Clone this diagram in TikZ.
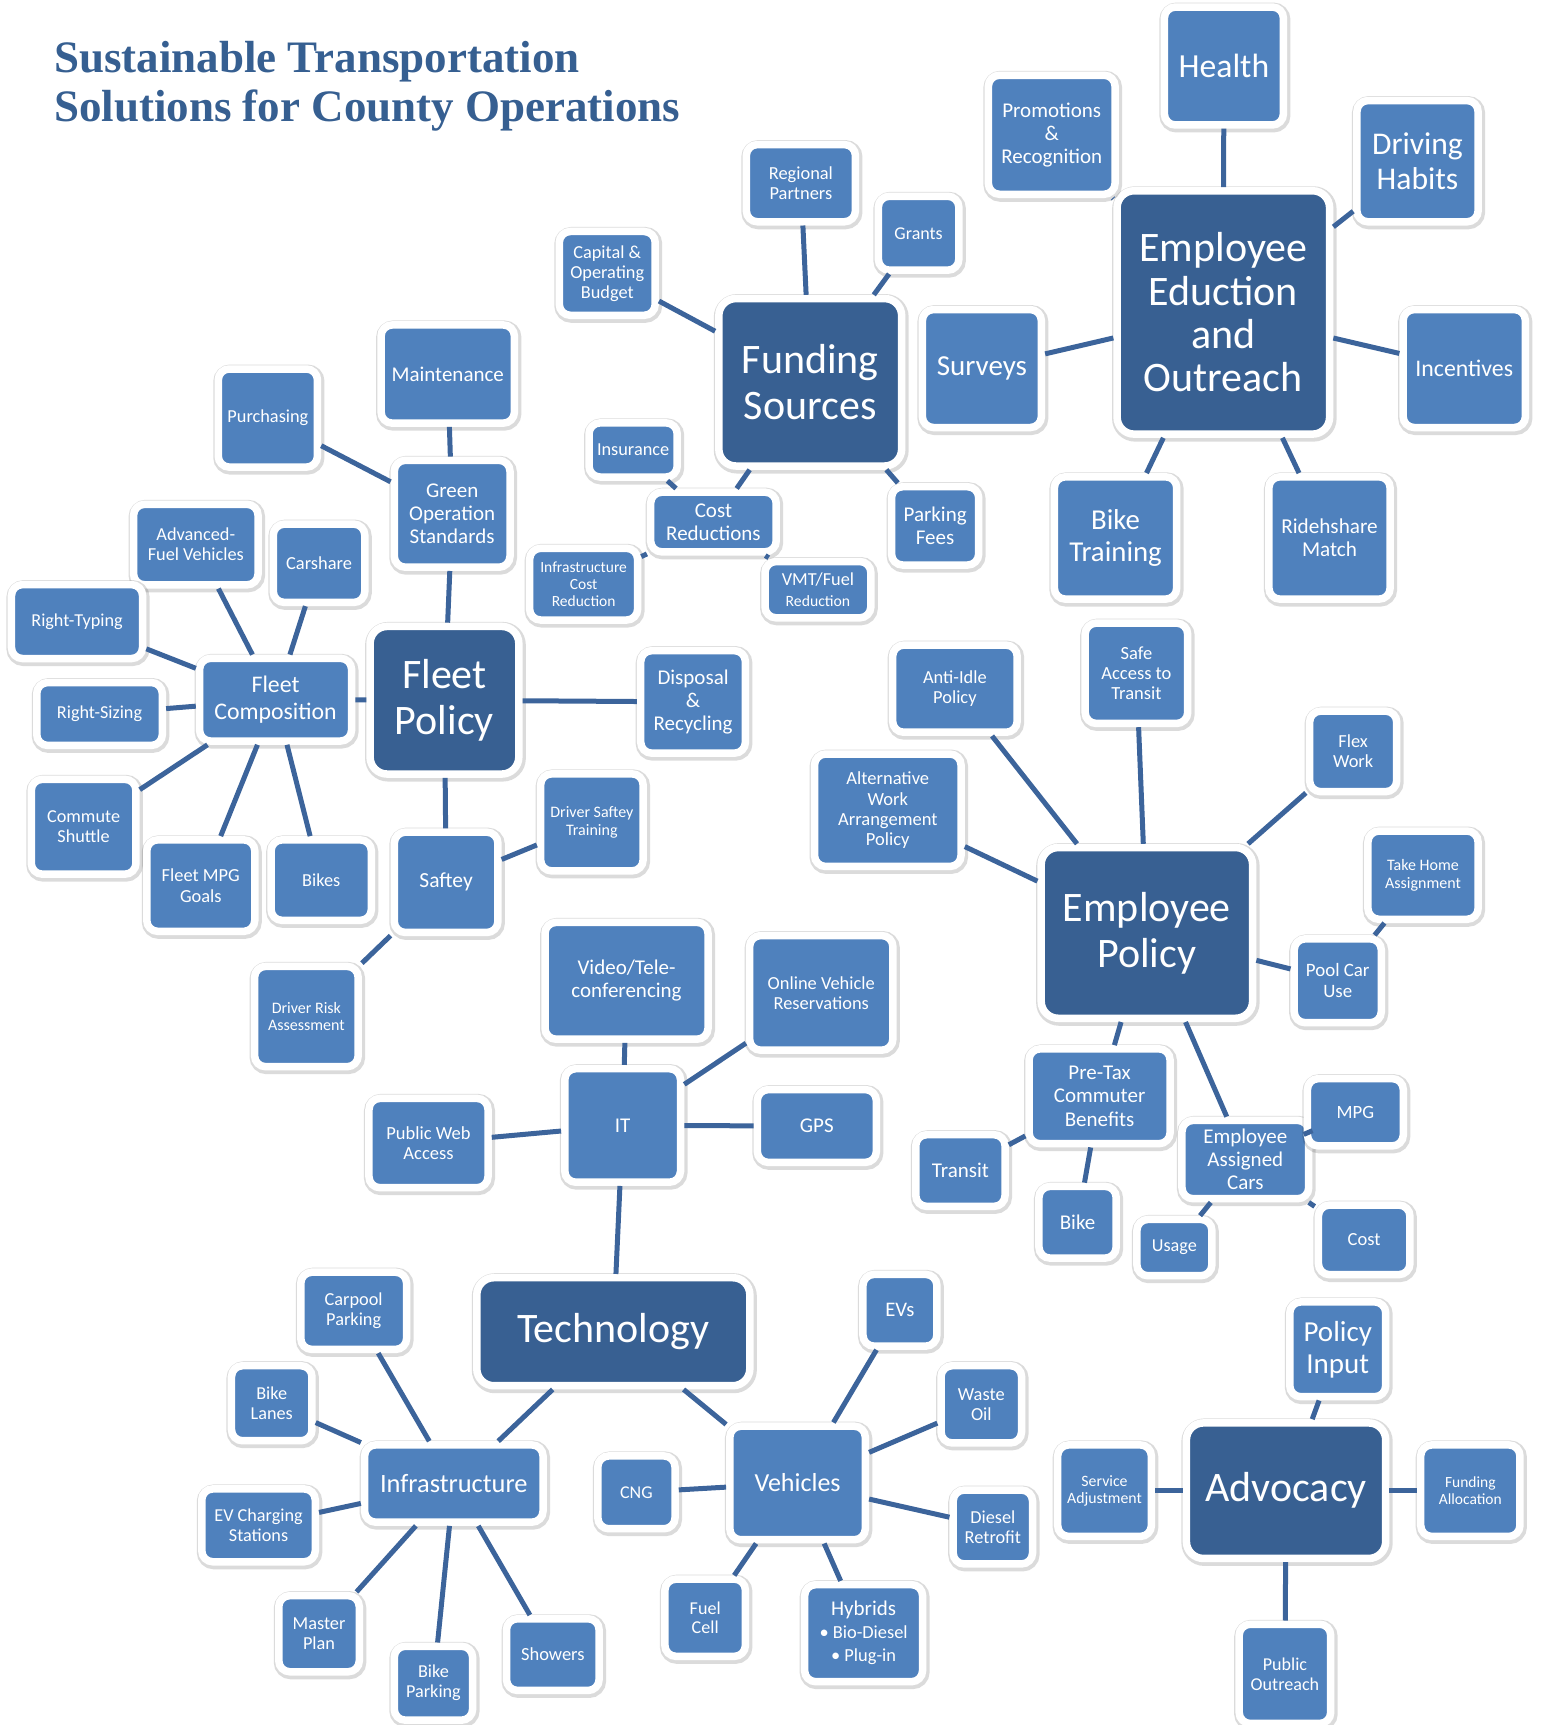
\documentclass[tikz,border=0pt]{standalone}
\usepackage{fontspec}
\setmainfont{Carlito}
\newfontfamily\titleFont{Liberation Serif}
\usetikzlibrary{shadows}
\definecolor{leafColor}{RGB}{79,129,189}
\definecolor{hubColor}{RGB}{56,96,146}
\definecolor{linkColor}{RGB}{60,100,155}
\definecolor{titleColor}{RGB}{54,95,145}
\newcommand\setfs[2]{\pgfmathsetlengthmacro\fsline{#1*#2}\fontsize{#1}{\fsline}\selectfont}

\begin{document}
\begin{tikzpicture}[x=1.1pt, y=-1.1pt,
leaf/.style={
    rectangle, rounded corners=11pt, draw=white, line width=7.5pt,
    fill=leafColor, text=white, align=center, inner sep=1pt,
    drop shadow={shadow xshift=1pt, shadow yshift=-1.5pt,
        opacity=0.14, fill=black, draw=black, line width=12pt}
},
hub/.style={
    leaf, fill=hubColor, rounded corners=17pt, font=\setfs{42}{1.1}
},
fs/.style={font=\setfs{#1}{1.1}},
sz/.style 2 args={minimum width=#1*1.1pt+3.5pt, minimum height=#2*1.1pt+3.5pt},
link/.style={linkColor, line width=5pt}
]

\useasboundingbox (0,0) rectangle (1400,1568);

\node[titleColor, font=\titleFont\bfseries\setfs{45}{1.1}, align=left,
      anchor=north west, inner sep=0pt] (title) at (49,37)
      {Sustainable Transportation\\Solutions for County Operations};

\node[hub, sz={163}{149}] (fundingSources) at (736.5,347.5) {Funding\\Sources};
\node[leaf, sz={96}{67}, fs=18.4] (regionalPartners) at (728,166.5) {Regional\\Partners};
\node[leaf, sz={70}{64}, fs=18] (grants) at (835,212) {Grants};
\node[leaf, sz={84}{73}, fs=18.3] (capitalBudget) at (552,248.5) {Capital \&\\Operating\\Budget};
\node[leaf, sz={111}{51}, fs=21] (costReductions) at (648.5,474.5) {Cost\\Reductions};
\node[leaf, sz={77}{46}, fs=18.3] (insurance) at (575.5,409) {Insurance};
\node[leaf, sz={95}{62}, fs=15.5] (infraCost) at (530.5,531) {Infrastructure\\Cost\\Reduction};
\node[leaf, sz={93}{48}, fs=18.3] (vmtFuel) at (743.5,536) {VMT/Fuel\\{\setfs{15.7}{1.1}Reduction}};
\node[leaf, sz={76}{68}, fs=21] (parkingFees) at (850,478) {Parking\\Fees};

\node[hub, sz={190}{218}, font=\setfs{42}{1.03}] (employeeEducation) at (1112,284)
      {Employee\\Eduction\\and\\Outreach};
\node[leaf, sz={105}{104}, fs=33.7] (health) at (1112.5,60) {Health};
\node[leaf, sz={112}{105}, fs=21] (promotions) at (956,122.5) {Promotions\\\&\\Recognition};
\node[leaf, sz={107}{107}, fs=31.6] (drivingHabits) at (1288.5,146.5) {Driving\\Habits};
\node[leaf, sz={105}{104}, fs=29] (surveys) at (892.5,335) {Surveys};
\node[leaf, sz={108}{104}, fs=23.8] (incentives) at (1331,335) {Incentives};
\node[leaf, sz={108}{108}, fs=28.8] (bikeTraining) at (1014,489) {Bike\\Training};
\node[leaf, sz={107}{108}, fs=21.2] (ridehshareMatch) at (1208.5,489) {Ridehshare\\Match};

\node[hub, sz={132}{131}] (fleetPolicy) at (404,636.5) {Fleet\\Policy};
\node[leaf, sz={102}{94}, fs=21] (greenOps) at (411,467) {Green\\Operation\\Standards};
\node[leaf, sz={118}{86}, fs=21] (maintenance) at (407,340) {Maintenance};
\node[leaf, sz={87}{86}, fs=18.3] (purchasing) at (243.5,380) {Purchasing};
\node[leaf, sz={135}{72}, fs=23.8] (fleetComposition) at (250.5,636) {Fleet\\Composition};
\node[leaf, sz={110}{70}, fs=18.3] (advancedFuel) at (178,495) {Advanced-\\Fuel Vehicles};
\node[leaf, sz={80}{68}, fs=18.4] (carshare) at (290,512) {Carshare};
\node[leaf, sz={116}{64}, fs=18.2] (rightTyping) at (70,565) {Right-Typing};
\node[leaf, sz={111}{54}, fs=18.2] (rightSizing) at (90.5,649) {Right-Sizing};
\node[leaf, sz={92}{83}, fs=18.2] (commuteShuttle) at (76,751.5) {Commute\\Shuttle};
\node[leaf, sz={95}{80}, fs=18.4] (fleetMpg) at (182.5,805) {Fleet MPG\\Goals};
\node[leaf, sz={88}{70}, fs=18.3] (bikes) at (292,800) {Bikes};
\node[leaf, sz={92}{90}, fs=21] (disposal) at (630,638) {Disposal\\\&\\Recycling};
\node[leaf, sz={91}{88}, fs=21.5] (saftey) at (405.5,802) {Saftey};
\node[leaf, sz={90}{85}, fs=16] (driverSafteyTraining) at (538,747.5) {Driver Saftey\\Training};
\node[leaf, sz={91}{88}, fs=16] (driverRisk) at (278.5,924) {Driver Risk\\Assessment};

\node[hub, sz={189}{152}] (employeePolicy) at (1042.5,848) {Employee\\Policy};
\node[leaf, sz={110}{76}, fs=18.4] (antiIdle) at (868,626) {Anti-Idle\\Policy};
\node[leaf, sz={90}{88}, fs=18.5] (safeAccess) at (1033,612) {Safe\\Access to\\Transit};
\node[leaf, sz={76}{70}, fs=18.4] (flexWork) at (1230,683) {Flex\\Work};
\node[leaf, sz={130}{99}, fs=18.5] (altWork) at (807,736.5) {Alternative\\Work\\Arrangement\\Policy};
\node[leaf, sz={97}{77}, fs=16] (takeHome) at (1293.5,795.5) {Take Home\\Assignment};
\node[leaf, sz={76}{73}, fs=18.9] (poolCar) at (1216,891.5) {Pool Car\\Use};
\node[leaf, sz={125}{83}, fs=21] (preTax) at (999.5,996.5) {Pre-Tax\\Commuter\\Benefits};
\node[leaf, sz={78}{62}, fs=21] (transit) at (873,1064) {Transit};
\node[leaf, sz={67}{62}, fs=21] (bike) at (979.5,1111) {Bike};
\node[leaf, sz={112}{68}, fs=21] (assignedCars) at (1132,1054) {Employee\\Assigned\\Cars};
\node[leaf, sz={84}{58}, fs=18.7] (mpg) at (1232,1011) {MPG};
\node[leaf, sz={65}{48}, fs=18.2] (usage) at (1067.5,1134) {Usage};
\node[leaf, sz={80}{60}, fs=18.5] (cost) at (1240,1127) {Cost};

\node[leaf, sz={102}{100}, fs=21] (itNode) at (566,1023) {IT};
\node[leaf, sz={145}{103}, fs=21] (videoConf) at (569.5,891.5) {Video/Tele-\\conferencing};
\node[leaf, sz={127}{101}, fs=18.4] (onlineVehicle) at (746.5,902.5) {Online Vehicle\\Reservations};
\node[leaf, sz={105}{78}, fs=18.5] (publicWeb) at (389.5,1039) {Public Web\\Access};
\node[leaf, sz={105}{63}, fs=21] (gps) at (742.5,1023.5) {GPS};

\node[hub, sz={245}{95}] (technology) at (557.5,1210.5) {Technology};
\node[leaf, sz={159}{67}, fs=26.4] (infrastructure) at (412.5,1348.5) {Infrastructure};
\node[leaf, sz={93}{67}, fs=18.3] (carpoolParking) at (321.5,1191.5) {Carpool\\Parking};
\node[leaf, sz={70}{65}, fs=18.2] (bikeLanes) at (247,1275.5) {Bike\\Lanes};
\node[leaf, sz={100}{63}, fs=18.2] (evCharging) at (235,1386.5) {EV Charging\\Stations};
\node[leaf, sz={70}{66}, fs=18.3] (masterPlan) at (290,1485) {Master\\Plan};
\node[leaf, sz={68}{64}, fs=18.2] (bikeParking) at (394,1530) {Bike\\Parking};
\node[leaf, sz={81}{62}, fs=18.5] (showers) at (502.5,1504) {Showers};
\node[leaf, sz={120}{100}, fs=26] (vehicles) at (725,1348) {Vehicles};
\node[leaf, sz={67}{63}, fs=18] (cng) at (578.5,1356.5) {CNG};
\node[leaf, sz={64}{62}, fs=20.7] (evs) at (818,1191) {EVs};
\node[leaf, sz={70}{67}, fs=18.4] (wasteOil) at (892,1276.5) {Waste\\Oil};
\node[leaf, sz={69}{64}, fs=18.3] (dieselRetrofit) at (902.5,1388) {Diesel\\Retrofit};
\node[leaf, sz={70}{67}, fs=18.1] (fuelCell) at (641,1470.5) {Fuel\\Cell};
\node[leaf, sz={104}{85}, fs=21] (hybrids) at (785,1484.5)
      {Hybrids\\{\setfs{18.4}{1.3}\textbullet\ Bio-Diesel}\\{\setfs{18.4}{1.3}\textbullet\ Plug-in}};

\node[hub, sz={178}{120}] (advocacy) at (1169,1355) {Advocacy};
\node[leaf, sz={84}{83}, fs=29] (policyInput) at (1216,1226.5) {Policy\\Input};
\node[leaf, sz={82}{80}, fs=15.8] (serviceAdj) at (1004,1355) {Service\\Adjustment};
\node[leaf, sz={87}{80}, fs=15.5] (fundingAlloc) at (1336.5,1355) {Funding\\Allocation};
\node[leaf, sz={80}{87}, fs=18.1] (publicOutreach) at (1168,1521.5) {Public\\Outreach};

\foreach \from/\to in {fundingSources/regionalPartners, fundingSources/grants,
        fundingSources/capitalBudget, fundingSources/costReductions,
        fundingSources/parkingFees, costReductions/insurance,
        costReductions/infraCost, costReductions/vmtFuel,
        employeeEducation/health, employeeEducation/promotions,
        employeeEducation/drivingHabits, employeeEducation/surveys,
        employeeEducation/incentives, employeeEducation/bikeTraining,
        employeeEducation/ridehshareMatch,
        fleetPolicy/greenOps, fleetPolicy/fleetComposition, fleetPolicy/disposal,
        fleetPolicy/saftey, greenOps/maintenance, greenOps/purchasing,
        fleetComposition/advancedFuel, fleetComposition/carshare,
        fleetComposition/rightTyping, fleetComposition/rightSizing,
        fleetComposition/commuteShuttle, fleetComposition/fleetMpg,
        fleetComposition/bikes, saftey/driverSafteyTraining, saftey/driverRisk,
        employeePolicy/antiIdle, employeePolicy/safeAccess, employeePolicy/flexWork,
        employeePolicy/altWork, employeePolicy/poolCar, employeePolicy/preTax,
        employeePolicy/assignedCars, poolCar/takeHome, preTax/transit, preTax/bike,
        assignedCars/mpg, assignedCars/usage, assignedCars/cost,
        itNode/videoConf, itNode/onlineVehicle, itNode/publicWeb, itNode/gps,
        itNode/technology, technology/infrastructure, technology/vehicles,
        infrastructure/carpoolParking, infrastructure/bikeLanes,
        infrastructure/evCharging, infrastructure/masterPlan,
        infrastructure/bikeParking, infrastructure/showers,
        vehicles/cng, vehicles/evs, vehicles/wasteOil, vehicles/dieselRetrofit,
        vehicles/fuelCell, vehicles/hybrids,
        advocacy/policyInput, advocacy/serviceAdj, advocacy/fundingAlloc,
        advocacy/publicOutreach}
    \draw [link] (\from)--(\to);

\end{tikzpicture}
\end{document}
